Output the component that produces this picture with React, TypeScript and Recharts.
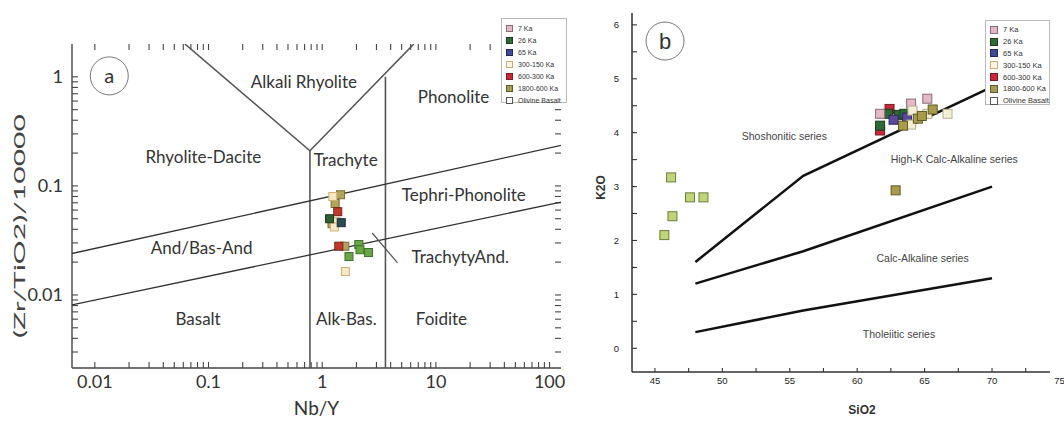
import { ScatterChart, Scatter, XAxis, YAxis, ReferenceDot, ReferenceLine } from 'recharts';

type Pt = { x: number; y: number };

const AGE_GROUPS = ['7 Ka', '26 Ka', '65 Ka', '300-150 Ka', '600-300 Ka', '1800-600 Ka', 'Olivine Basalt'];

// ---- panel a : Nb/Y vs (Zr/TiO2)/10000 (log-log) ----
const A_26KA: Pt[] = [{ x: 1.16, y: 0.05 }];
const A_65KA: Pt[] = [{ x: 1.47, y: 0.046 }];
const A_300_150: Pt[] = [{ x: 1.24, y: 0.08 }, { x: 1.33, y: 0.047 }, { x: 1.28, y: 0.042 }, { x: 1.6, y: 0.0164 }];
const A_600_300: Pt[] = [{ x: 1.37, y: 0.058 }, { x: 1.4, y: 0.028 }];
const A_1800_600: Pt[] = [{ x: 1.45, y: 0.083 }, { x: 1.3, y: 0.069 }, { x: 1.22, y: 0.045 }, { x: 1.58, y: 0.028 }];
const A_OLIVINE: Pt[] = [{ x: 2.1, y: 0.029 }, { x: 2.15, y: 0.026 }, { x: 2.55, y: 0.0245 }, { x: 1.72, y: 0.0225 }];

// field boundaries
const A_LINE_V: Pt[] = [{ x: 0.062, y: 2.0 }, { x: 0.78, y: 0.21 }, { x: 6.4, y: 2.0 }];
const A_LINE_NB1: Pt[] = [{ x: 0.78, y: 0.00214 }, { x: 0.78, y: 0.21 }];
const A_LINE_NB2: Pt[] = [{ x: 3.6, y: 0.00214 }, { x: 3.6, y: 1.0 }];
const A_LINE_UPPER: Pt[] = [{ x: 0.0063, y: 0.024 }, { x: 126, y: 0.235 }];
const A_LINE_LOWER: Pt[] = [{ x: 0.0063, y: 0.0081 }, { x: 126, y: 0.071 }];
const A_LINE_POINTER: Pt[] = [{ x: 2.75, y: 0.037 }, { x: 4.6, y: 0.0197 }];

const A_X_DOMAIN = [0.0063, 126];
const A_Y_DOMAIN = [0.00214, 2.0];
const A_X_TICKS = [0.01, 0.02, 0.03, 0.04, 0.05, 0.06, 0.07, 0.08, 0.09, 0.1, 0.2, 0.3, 0.4, 0.5, 0.6, 0.7, 0.8, 0.9, 1, 2, 3, 4, 5, 6, 7, 8, 9, 10, 20, 30, 40, 50, 60, 70, 80, 90, 100];
const A_Y_TICKS = [0.003, 0.004, 0.005, 0.006, 0.007, 0.008, 0.009, 0.01, 0.02, 0.03, 0.04, 0.05, 0.06, 0.07, 0.08, 0.09, 0.1, 0.2, 0.3, 0.4, 0.5, 0.6, 0.7, 0.8, 0.9, 1];
const A_MAJOR = [0.01, 0.1, 1, 10, 100];

const A_FIELDS = [
  { text: 'Alkali Rhyolite', x: 0.69, y: 0.9 },
  { text: 'Phonolite', x: 14.3, y: 0.66 },
  { text: 'Rhyolite-Dacite', x: 0.09, y: 0.186 },
  { text: 'Trachyte', x: 1.61, y: 0.173 },
  { text: 'Tephri-Phonolite', x: 17.6, y: 0.083 },
  { text: 'And/Bas-And', x: 0.087, y: 0.0268 },
  { text: 'TrachytyAnd.', x: 16.4, y: 0.0225 },
  { text: 'Basalt', x: 0.081, y: 0.006 },
  { text: 'Alk-Bas.', x: 1.63, y: 0.006 },
  { text: 'Foidite', x: 11.2, y: 0.006 },
];

// ---- panel b : SiO2 vs K2O ----
const B_7KA: Pt[] = [{ x: 61.7, y: 4.35 }, { x: 64.0, y: 4.54 }, { x: 65.2, y: 4.63 }];
const B_26KA: Pt[] = [{ x: 61.7, y: 4.13 }, { x: 62.3, y: 4.35 }, { x: 63.1, y: 4.33 }, { x: 63.5, y: 4.35 }];
const B_65KA: Pt[] = [{ x: 62.7, y: 4.24 }, { x: 63.7, y: 4.28 }];
const B_300_150: Pt[] = [{ x: 66.7, y: 4.35 }, { x: 64.0, y: 4.15 }, { x: 64.1, y: 4.41 }, { x: 65.2, y: 4.35 }];
const B_600_300: Pt[] = [{ x: 61.7, y: 4.04 }, { x: 62.4, y: 4.44 }];
const B_1800_600: Pt[] = [{ x: 62.85, y: 2.93 }, { x: 63.4, y: 4.13 }, { x: 64.5, y: 4.26 }, { x: 64.8, y: 4.31 }, { x: 65.6, y: 4.43 }];
const B_OLIVINE: Pt[] = [{ x: 46.2, y: 3.17 }, { x: 47.6, y: 2.8 }, { x: 48.6, y: 2.8 }, { x: 46.3, y: 2.45 }, { x: 45.7, y: 2.1 }];

const B_LINE_SHO: Pt[] = [{ x: 48, y: 1.6 }, { x: 56, y: 3.2 }, { x: 70, y: 4.85 }];
const B_LINE_HK: Pt[] = [{ x: 48, y: 1.2 }, { x: 56, y: 1.8 }, { x: 70, y: 3.0 }];
const B_LINE_CA: Pt[] = [{ x: 48, y: 0.3 }, { x: 56, y: 0.7 }, { x: 70, y: 1.3 }];

const B_X_DOMAIN = [43.3, 74.3];
const B_Y_DOMAIN = [-0.44, 6.22];
const B_X_TICKS = [45, 47.5, 50, 52.5, 55, 57.5, 60, 62.5, 65, 67.5, 70, 72.5, 75];
const B_Y_TICKS = [0, 0.5, 1, 1.5, 2, 2.5, 3, 3.5, 4, 4.5, 5, 5.5, 6];

const B_FIELDS = [
  { text: 'Shoshonitic series', x: 54.6, y: 3.94 },
  { text: 'High-K Calc-Alkaline series', x: 67.2, y: 3.5 },
  { text: 'Calc-Alkaline series', x: 64.85, y: 1.67 },
  { text: 'Tholeiitic series', x: 63.1, y: 0.26 },
];

const FONT_A = 'Lato, "Noto Sans", sans-serif';
const FONT_B = '"Liberation Sans", Arial, sans-serif';

const LEGEND_STYLE = [
  { fill: '#e5b8c8', stroke: '#8b6b78' },
  { fill: '#2e6a36', stroke: '#1b3b1f' },
  { fill: '#3f4996', stroke: '#222a5a' },
  { fill: '#fdf4e4', stroke: '#d3a876' },
  { fill: '#c8283a', stroke: '#7d1a22' },
  { fill: '#a39c55', stroke: '#5d5a2c' },
  { fill: '#ffffff', stroke: '#555555' },
];

const square = (fill: string, stroke: string, s: number) => (p: any) => (
  <rect x={p.cx - s / 2} y={p.cy - s / 2} width={s} height={s} fill={fill} stroke={stroke} strokeWidth={1} />
);
const noPoint = () => <g />;

function LegendBox({ left, top, width, height, rowH, sw, fontSize }: any) {
  return (
    <div style={{ position: 'absolute', left, top, width, height, border: '1px solid #bbb', background: '#fff', boxSizing: 'border-box', paddingTop: 3, paddingLeft: 4 }}>
      {AGE_GROUPS.map((name, i) => (
        <div key={name} style={{ display: 'flex', alignItems: 'center', height: rowH, fontFamily: FONT_B, fontSize, color: '#333', whiteSpace: 'nowrap' }}>
          <span style={{ display: 'inline-block', width: sw, height: sw, background: LEGEND_STYLE[i].fill, border: `1px solid ${LEGEND_STYLE[i].stroke}`, marginRight: 5 }} />
          {name}
        </div>
      ))}
    </div>
  );
}

const yLabelA = (props: any) => {
  const vb = props.viewBox || { x: 0, y: 0, width: 0, height: 0 };
  const x = vb.x + 19;
  const y = vb.y + vb.height / 2 + 20;
  return (
    <text x={x} y={y} transform={`rotate(-90 ${x} ${y})`} textAnchor="middle" dominantBaseline="central" fontSize={15} fontFamily={FONT_A} fill="#444" textLength={224} lengthAdjust="spacingAndGlyphs">
      (Zr/TiO2)/10000
    </text>
  );
};
const xLabelA = (props: any) => {
  const vb = props.viewBox || { x: 0, y: 0, width: 0, height: 0 };
  return (
    <text x={vb.x + vb.width / 2} y={vb.y + 39} textAnchor="middle" dominantBaseline="central" fontSize={19} fontFamily={FONT_A} fill="#333">
      Nb/Y
    </text>
  );
};
const yLabelB = (props: any) => {
  const vb = props.viewBox || { x: 0, y: 0, width: 0, height: 0 };
  const x = vb.x + 31;
  const y = vb.y + vb.height / 2 - 5;
  return (
    <text x={x} y={y} transform={`rotate(-90 ${x} ${y})`} textAnchor="middle" dominantBaseline="central" fontSize={12} fontWeight="bold" fontFamily={FONT_B} fill="#333">
      K2O
    </text>
  );
};
const xLabelB = (props: any) => {
  const vb = props.viewBox || { x: 0, y: 0, width: 0, height: 0 };
  return (
    <text x={vb.x + vb.width / 2 + 21} y={vb.y + 38} textAnchor="middle" dominantBaseline="central" fontSize={12} fontWeight="bold" fontFamily={FONT_B} fill="#333">
      SiO2
    </text>
  );
};

const fmtA = (v: number) => (A_MAJOR.includes(v) ? String(v) : '');
const fmtBx = (v: number) => (v % 5 === 0 ? String(v) : '');
const fmtBy = (v: number) => (Number.isInteger(v) ? String(v) : '');

// inward tick marks drawn as short reference segments in data space
// (log axes: multiplicative step ~6px; linear axes: additive step)
function tickMarksLog(xt: number[], yt: number[], xd: number[], yd: number[], kx: number, ky: number, stroke: string) {
  const out: any[] = [];
  xt.forEach((v) => {
    out.push(<ReferenceLine key={`b${v}`} segment={[{ x: v, y: yd[0] }, { x: v, y: yd[0] * ky }]} stroke={stroke} strokeWidth={1.1} />);
    out.push(<ReferenceLine key={`t${v}`} segment={[{ x: v, y: yd[1] }, { x: v, y: yd[1] / ky }]} stroke={stroke} strokeWidth={1.1} />);
  });
  yt.forEach((v) => {
    out.push(<ReferenceLine key={`l${v}`} segment={[{ x: xd[0], y: v }, { x: xd[0] * kx, y: v }]} stroke={stroke} strokeWidth={1.1} />);
    out.push(<ReferenceLine key={`r${v}`} segment={[{ x: xd[1], y: v }, { x: xd[1] / kx, y: v }]} stroke={stroke} strokeWidth={1.1} />);
  });
  return out;
}
function tickMarksLin(xt: number[], yt: number[], xd: number[], yd: number[], dx: number, dy: number, stroke: string) {
  const out: any[] = [];
  xt.filter((v) => v >= xd[0] && v <= xd[1]).forEach((v) => {
    out.push(<ReferenceLine key={`b${v}`} segment={[{ x: v, y: yd[0] }, { x: v, y: yd[0] + dy }]} stroke={stroke} strokeWidth={1.1} />);
  });
  yt.filter((v) => v >= yd[0] && v <= yd[1]).forEach((v) => {
    out.push(<ReferenceLine key={`l${v}`} segment={[{ x: xd[0], y: v }, { x: xd[0] + dx, y: v }]} stroke={stroke} strokeWidth={1.1} />);
  });
  return out;
}

function PanelA() {
  const axisStroke = '#444';
  const series = [
    { data: A_1800_600, fill: '#b3a45c', stroke: '#7a6e34' },
    { data: A_300_150, fill: '#f3e8c8', stroke: '#d0b070' },
    { data: A_600_300, fill: '#c0392b', stroke: '#7a1f18' },
    { data: A_26KA, fill: '#2f5f30', stroke: '#1c3a1e' },
    { data: A_65KA, fill: '#2c4c55', stroke: '#1a2e33' },
    { data: A_OLIVINE, fill: '#6aa545', stroke: '#3f6e2a' },
  ];
  const tickStyle = { fill: '#333', fontSize: 18, fontFamily: FONT_A };
  return (
    <ScatterChart width={570} height={424} margin={{ top: 44, right: 9, bottom: 26, left: 0 }}>
      <XAxis xAxisId={0} type="number" dataKey="x" scale="log" domain={A_X_DOMAIN} allowDataOverflow ticks={A_X_TICKS} interval={0}
        tickFormatter={fmtA} tickSize={0} tickMargin={7} tickLine={false} height={30}
        axisLine={{ stroke: axisStroke, strokeWidth: 1.4 }} tick={tickStyle} label={{ content: xLabelA }} />
      <XAxis xAxisId="top" orientation="top" type="number" scale="log" domain={A_X_DOMAIN} allowDataOverflow
        tick={false} tickLine={false} height={0} axisLine={{ stroke: axisStroke, strokeWidth: 1.4 }} />
      <YAxis yAxisId={0} type="number" dataKey="y" scale="log" domain={A_Y_DOMAIN} allowDataOverflow ticks={A_Y_TICKS} interval={0}
        tickFormatter={fmtA} tickSize={0} tickMargin={9} tickLine={false} width={72}
        axisLine={{ stroke: axisStroke, strokeWidth: 1.4 }} tick={tickStyle} label={{ content: yLabelA }} />
      <YAxis yAxisId="right" orientation="right" type="number" scale="log" domain={A_Y_DOMAIN} allowDataOverflow
        tick={false} tickLine={false} width={0} axisLine={{ stroke: axisStroke, strokeWidth: 1.4 }} />

      {tickMarksLog(A_X_TICKS, A_Y_TICKS, A_X_DOMAIN, A_Y_DOMAIN, 1.129, 1.135, axisStroke)}

      <Scatter data={A_LINE_V} line={{ stroke: '#555', strokeWidth: 1.6 }} shape={noPoint} isAnimationActive={false} legendType="none" />
      <Scatter data={A_LINE_NB1} line={{ stroke: '#555', strokeWidth: 1.6 }} shape={noPoint} isAnimationActive={false} legendType="none" />
      <Scatter data={A_LINE_NB2} line={{ stroke: '#555', strokeWidth: 1.6 }} shape={noPoint} isAnimationActive={false} legendType="none" />
      <Scatter data={A_LINE_UPPER} line={{ stroke: '#333', strokeWidth: 1.3 }} shape={noPoint} isAnimationActive={false} legendType="none" />
      <Scatter data={A_LINE_LOWER} line={{ stroke: '#333', strokeWidth: 1.3 }} shape={noPoint} isAnimationActive={false} legendType="none" />
      <Scatter data={A_LINE_POINTER} line={{ stroke: '#555', strokeWidth: 1.2 }} shape={noPoint} isAnimationActive={false} legendType="none" />

      {series.map((s, i) => (
        <Scatter key={i} data={s.data} shape={square(s.fill, s.stroke, 8)} isAnimationActive={false} legendType="none" />
      ))}

      {A_FIELDS.map((f) => (
        <ReferenceDot key={f.text} x={f.x} y={f.y} r={0} fill="none" stroke="none"
          label={{ value: f.text, position: 'center', fill: '#333', fontSize: 17, fontFamily: FONT_A }} />
      ))}
      <ReferenceDot x={0.0134} y={1.02} r={19} fill="none" stroke="#777" strokeWidth={1}
        label={{ value: 'a', position: 'center', fill: '#333', fontSize: 20, fontFamily: FONT_A }} />
    </ScatterChart>
  );
}

function PanelB() {
  const axisStroke = '#333';
  const series = [
    { data: B_OLIVINE, fill: '#c2d47a', stroke: '#6d7d3a' },
    { data: B_600_300, fill: '#c8283a', stroke: '#7d1a22' },
    { data: B_26KA, fill: '#2e6a36', stroke: '#1b3b1f' },
    { data: B_7KA, fill: '#e5b8c8', stroke: '#8b6b78' },
    { data: B_65KA, fill: '#5a4a9a', stroke: '#2e2560' },
    { data: B_300_150, fill: '#f3efd6', stroke: '#b8b090' },
    { data: B_1800_600, fill: '#a89c48', stroke: '#5e5a2a' },
  ];
  const tickStyle = { fill: '#222', fontSize: 9.5, fontFamily: FONT_B };
  return (
    <ScatterChart width={494} height={424} margin={{ top: 13, right: 14, bottom: 22, left: 0 }}>
      <XAxis xAxisId={0} type="number" dataKey="x" domain={B_X_DOMAIN} allowDataOverflow ticks={B_X_TICKS} interval={0}
        tickFormatter={fmtBx} tickSize={0} tickMargin={5} tickLine={false} height={30}
        axisLine={{ stroke: axisStroke, strokeWidth: 1.5 }} tick={tickStyle} label={{ content: xLabelB }} />
      <XAxis xAxisId="top" orientation="top" type="number" domain={B_X_DOMAIN} allowDataOverflow tick={false} tickLine={false} height={0}
        axisLine={{ stroke: axisStroke, strokeWidth: 1.5 }} />
      <YAxis yAxisId={0} type="number" dataKey="y" domain={B_Y_DOMAIN} allowDataOverflow ticks={B_Y_TICKS} interval={0}
        tickFormatter={fmtBy} tickSize={0} tickMargin={13} tickLine={false} width={62}
        axisLine={{ stroke: axisStroke, strokeWidth: 1.5 }} tick={tickStyle} label={{ content: yLabelB }} />
      <YAxis yAxisId="right" orientation="right" type="number" domain={B_Y_DOMAIN} allowDataOverflow tick={false} tickLine={false} width={0}
        axisLine={{ stroke: axisStroke, strokeWidth: 1.5 }} />

      {tickMarksLin(B_X_TICKS, B_Y_TICKS, B_X_DOMAIN, B_Y_DOMAIN, 0.37, 0.075, axisStroke)}

      <Scatter data={B_LINE_SHO} line={{ stroke: '#111', strokeWidth: 2.5 }} shape={noPoint} isAnimationActive={false} legendType="none" />
      <Scatter data={B_LINE_HK} line={{ stroke: '#111', strokeWidth: 2.5 }} shape={noPoint} isAnimationActive={false} legendType="none" />
      <Scatter data={B_LINE_CA} line={{ stroke: '#111', strokeWidth: 2.5 }} shape={noPoint} isAnimationActive={false} legendType="none" />

      {series.map((s, i) => (
        <Scatter key={i} data={s.data} shape={square(s.fill, s.stroke, 9)} isAnimationActive={false} legendType="none" />
      ))}

      {B_FIELDS.map((f) => (
        <ReferenceDot key={f.text} x={f.x} y={f.y} r={0} fill="none" stroke="none"
          label={{ value: f.text, position: 'center', fill: '#444', fontSize: 10.5, fontFamily: FONT_B }} />
      ))}
      <ReferenceDot x={45.75} y={5.7} r={19} fill="none" stroke="#777" strokeWidth={1}
        label={{ value: 'b', position: 'center', fill: '#333', fontSize: 22, fontFamily: FONT_B }} />
    </ScatterChart>
  );
}

export default function App() {
  return (
    <div style={{ position: 'absolute', left: 0, top: 0, width: 1064, height: 424, background: '#fff', overflow: 'hidden' }}>
      <div style={{ position: 'absolute', left: 0, top: 0 }}>
        <PanelA />
      </div>
      <div style={{ position: 'absolute', left: 570, top: 0 }}>
        <PanelB />
      </div>
      <LegendBox left={501} top={18} width={66} height={85} rowH={12} sw={5} fontSize={7} />
      <LegendBox left={985} top={20} width={65} height={85} rowH={11.8} sw={6} fontSize={7.5} />
    </div>
  );
}
